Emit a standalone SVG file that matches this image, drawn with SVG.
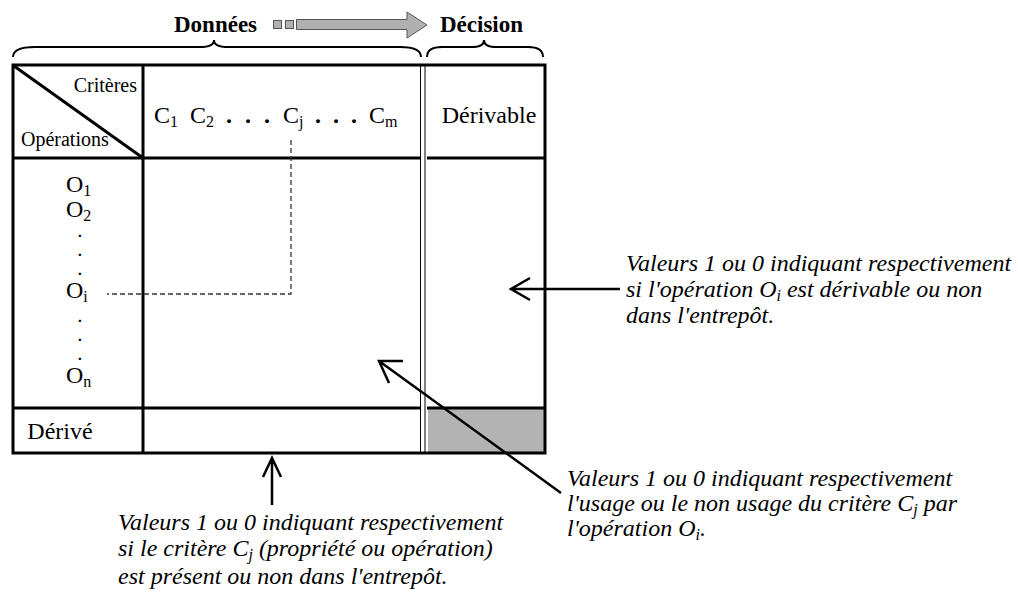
<svg xmlns="http://www.w3.org/2000/svg" width="1018" height="594" viewBox="0 0 1018 594">
<style>
.t{font-family:"Liberation Serif",serif;font-size:24px;fill:#000}
.sm{font-family:"Liberation Serif",serif;font-size:20px;fill:#000}
.dot{font-family:"Liberation Serif",serif;font-size:15px;font-weight:bold;fill:#000}
.s{font-size:16px}
.hb{font-family:"Liberation Serif",serif;font-size:23px;font-weight:bold;fill:#000}
.it{font-family:"Liberation Serif",serif;font-size:24px;font-style:italic;fill:#000}
.thick{stroke:#000;stroke-width:3;fill:none}
.thin{stroke:#000;stroke-width:1;fill:none}
.br{stroke:#000;stroke-width:2;fill:none}
.arr{stroke:#000;stroke-width:2.5;fill:none}
.g{fill:#b0b0b0;stroke:#555;stroke-width:1}
</style>
<rect width="1018" height="594" fill="#fff"/>
<g id="header">
<text class="hb" x="174" y="32">Données</text>
<rect class="g" x="273.5" y="20.5" width="8" height="8"/>
<rect class="g" x="285.5" y="20.5" width="8" height="8"/>
<path class="g" d="M296.5,19.5 H407 V12 L427,25 L407,38 V29.5 H296.5 Z"/>
<text class="hb" x="440" y="32">Décision</text>
<path class="br" d="M13,57 Q13,47 35,47 L200,47 Q214,47 214,40 Q214,47 228,47 L400,47 Q421,47 421,57"/>
<path class="br" d="M427,57 Q427,47 442,47 L472,47 Q484,47 484,40 Q484,47 496,47 L528,47 Q543,47 543,57"/>
</g>
<g id="table">
<rect x="428" y="408" width="117" height="45" fill="#b3b3b3"/>
<rect class="thick" x="13" y="65" width="532" height="388"/>
<line class="thick" x1="143" y1="65" x2="143" y2="453"/>
<line class="thick" x1="13" y1="158" x2="420" y2="158"/>
<line class="thick" x1="427" y1="158" x2="545" y2="158"/>
<line class="thick" x1="13" y1="408" x2="420" y2="408"/>
<line class="thick" x1="427" y1="408" x2="545" y2="408"/>
<line class="thin" x1="420.5" y1="65" x2="420.5" y2="453"/>
<line class="thin" x1="425" y1="65" x2="425" y2="453"/>
<line class="thick" x1="14" y1="66" x2="143" y2="158"/>
</g>
<g id="labels">
<text class="sm" x="137" y="92" text-anchor="end">Critères</text>
<text class="sm" x="21" y="146">Opérations</text>
<text class="t" x="154" y="123">C<tspan class="s" dy="4">1</tspan></text>
<text class="t" x="190" y="123">C<tspan class="s" dy="4">2</tspan></text>
<text class="t" x="226" y="123" font-weight="bold">.</text>
<text class="t" x="245" y="123" font-weight="bold">.</text>
<text class="t" x="264" y="123" font-weight="bold">.</text>
<text class="t" x="283" y="123">C<tspan class="s" dy="4">j</tspan></text>
<text class="t" x="315" y="123" font-weight="bold">.</text>
<text class="t" x="333" y="123" font-weight="bold">.</text>
<text class="t" x="351" y="123" font-weight="bold">.</text>
<text class="t" x="369" y="123">C<tspan class="s" dy="4">m</tspan></text>
<text class="t" x="489" y="123" text-anchor="middle">Dérivable</text>
<text class="t" x="66" y="192">O<tspan class="s" dy="4">1</tspan></text>
<text class="t" x="66" y="217">O<tspan class="s" dy="4">2</tspan></text>
<text class="dot" x="78" y="237">.</text>
<text class="dot" x="78" y="256">.</text>
<text class="dot" x="78" y="275">.</text>
<text class="t" x="66" y="298">O<tspan class="s" dy="4">i</tspan></text>
<text class="dot" x="78" y="322">.</text>
<text class="dot" x="78" y="341">.</text>
<text class="dot" x="78" y="360">.</text>
<text class="t" x="66" y="383">O<tspan class="s" dy="4">n</tspan></text>
<text class="t" x="60" y="439" text-anchor="middle" font-size="25">Dérivé</text>
</g>
<g id="connectors">
<path d="M291,140 V294 H107" stroke="#333" stroke-width="1.3" stroke-dasharray="5,3" fill="none"/>
<path class="arr" d="M620,289 H511 M530,278 L511,289 L530,300"/>
<path class="arr" d="M561,493 L379,361 M403,361 L379,361 L389,383"/>
<path class="arr" d="M272,505 V458 M263,477 L272,458 L281,477"/>
</g>
<g id="notes">
<text class="it" x="626" y="271">Valeurs 1 ou 0 indiquant respectivement</text>
<text class="it" x="626" y="297">si l'opération O<tspan class="s" dy="4">i</tspan><tspan dy="-4"> est dérivable ou non</tspan></text>
<text class="it" x="626" y="323">dans l'entrepôt.</text>
<text class="it" x="567" y="486">Valeurs 1 ou 0 indiquant respectivement</text>
<text class="it" x="567" y="511">l'usage ou le non usage du critère C<tspan class="s" dy="4">j</tspan><tspan dy="-4"> par</tspan></text>
<text class="it" x="567" y="536">l'opération O<tspan class="s" dy="4">i</tspan><tspan dy="-4">.</tspan></text>
<text class="it" x="118" y="530">Valeurs 1 ou 0 indiquant respectivement</text>
<text class="it" x="118" y="556">si le critère C<tspan class="s" dy="4">j</tspan><tspan dy="-4"> (propriété ou opération)</tspan></text>
<text class="it" x="118" y="584">est présent ou non dans l'entrepôt.</text>
</g>
</svg>
